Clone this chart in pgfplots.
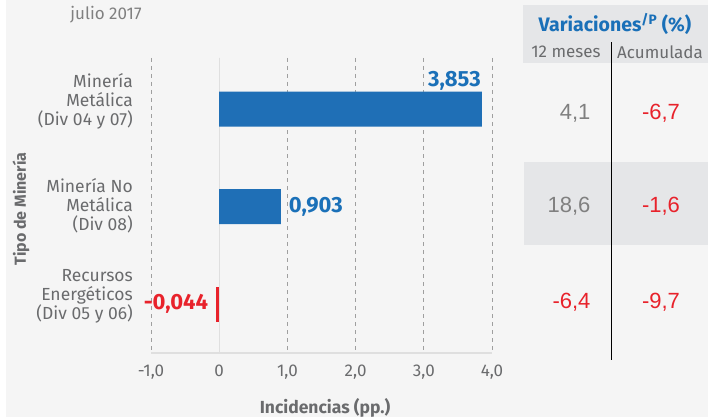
\documentclass[border=0pt]{standalone}
\usepackage{pgfplots}
\pgfplotsset{compat=1.18}
\usepackage{fontspec}
\setmainfont{Fira Sans}
\newfontfamily\arialf{Liberation Sans}
\definecolor{bg}{HTML}{F5F5F5}
\definecolor{barblue}{HTML}{1F6FB6}
\definecolor{lblue}{HTML}{1A70B8}
\definecolor{vred}{HTML}{E8222B}
\definecolor{tgray}{HTML}{6A6B6D}
\definecolor{ngray}{HTML}{808080}
\definecolor{boxgray}{HTML}{E5E6E8}
\begin{document}
\begin{tikzpicture}[x=1pt,y=1pt]
\useasboundingbox (0,0) rectangle (708,417);
\fill[bg] (0,0) rectangle (708,417);
\fill[white] (0,0) rectangle (6,417);
% table backgrounds
\fill[boxgray] (523,354) rectangle (708,412);
\fill[boxgray] (524,172) rectangle (708,255);
\begin{axis}[at={(151pt,64pt)}, anchor=south west, scale only axis,
  width=341pt, height=295pt,
  xmin=-1, xmax=4, ymin=-0.523, ymax=2.5, y dir=reverse,
  axis line style={draw=none}, major tick length=0pt,
  xtick={-1,0,1,2,3,4}, xticklabels={{-1,0},0,{1,0},{2,0},{3,0},{4,0}},
  ytick=\empty,
  xmajorgrids, grid style={gray!75, dash pattern=on 4pt off 4pt, line width=0.7pt},
  xticklabel style={font=\fontsize{17}{19}\selectfont, text=tgray, yshift=-8pt},
  /pgf/number format/assume math mode=true,
  clip=false]
\draw[gray!25, line width=1pt] (axis cs:0,-0.523) -- (axis cs:0,2.5);
\draw[gray!25, line width=1.2pt] (axis cs:-1,2.5) -- (axis cs:4,2.5);
\addplot[xbar, bar shift=0pt, bar width=35pt, fill=barblue, draw=none] coordinates {(3.853,0) (0.903,1)};
\addplot[xbar, bar shift=0pt, bar width=35pt, fill=vred, draw=none] coordinates {(-0.044,2)};
\node[anchor=base east, inner sep=0pt, text=lblue, font=\fontsize{22}{24}\selectfont\bfseries, xshift=-1pt, yshift=23pt] at (axis cs:3.853,0) {3,853};
\node[anchor=west, inner sep=0pt, text=lblue, font=\fontsize{22}{24}\selectfont\bfseries, xshift=8pt] at (axis cs:0.903,1) {0,903};
\node[anchor=east, inner sep=0pt, text=vred, font=\fontsize{22}{24}\selectfont\bfseries, xshift=-8pt] at (axis cs:-0.044,2) {-0,044};
\end{axis}
% axis title, labels
\node[inner sep=0pt, text=tgray, font=\fontsize{17.5}{19}\selectfont\bfseries] at (325,9) {Incidencias (pp.)};
\node[inner sep=0pt, text=tgray, font=\fontsize{16}{18}\selectfont\bfseries, rotate=90] at (21,208) {Tipo de Minería};
\node[text=ngray, font=\fontsize{17}{19}\selectfont] at (106,402) {julio 2017};
\node[anchor=east, align=right, inner sep=0pt, text=tgray, font=\fontsize{17.5}{19}\selectfont] at (133,316) {Minería\\Metálica\\(Div 04 y 07)};
\node[anchor=east, align=right, inner sep=0pt, text=tgray, font=\fontsize{17.5}{19}\selectfont] at (133,211) {Minería No\\Metálica\\(Div 08)};
\node[anchor=east, align=right, inner sep=0pt, text=tgray, font=\fontsize{17.5}{19}\selectfont] at (133,121) {Recursos\\Energéticos\\(Div 05 y 06)};
% table
\node[text=lblue, font=\fontsize{19.5}{22}\selectfont\bfseries] at (615,393) {Variaciones\textsuperscript{/P} (\%)};
\node[text=tgray, font=\fontsize{17}{19}\selectfont] at (566,365) {12 meses};
\node[text=tgray, font=\fontsize{17}{19}\selectfont] at (660,365) {Acumulada};
\draw[black, line width=0.8pt] (611,57) -- (611,375);
\node[anchor=east, text=ngray, font=\arialf\fontsize{22}{24}\selectfont] at (594,304) {4,1};
\node[text=vred, font=\arialf\fontsize{22}{24}\selectfont] at (661,304) {-6,7};
\node[anchor=east, text=ngray, font=\arialf\fontsize{22}{24}\selectfont] at (594,211) {18,6};
\node[text=vred, font=\arialf\fontsize{22}{24}\selectfont] at (661,211) {-1,6};
\node[anchor=east, text=vred, font=\arialf\fontsize{22}{24}\selectfont] at (594,115) {-6,4};
\node[text=vred, font=\arialf\fontsize{22}{24}\selectfont] at (661,115) {-9,7};
\end{tikzpicture}
\end{document}
